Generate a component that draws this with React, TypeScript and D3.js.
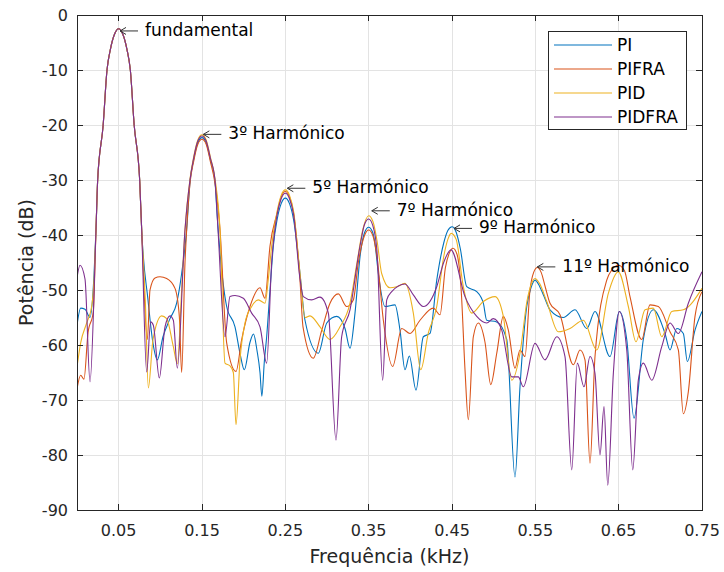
import React from 'react';
import * as d3 from 'd3';

type Pt = [number, number];

const seriesNames = ['PI', 'PIFRA', 'PID', 'PIDFRA'];
const seriesColors = ['#0072BD', '#D95319', '#EDB120', '#7E2F8E'];

// [frequency kHz, power dB]
const piData: Pt[] = [
  [0, -56.4], [0.0044, -53.3], [0.0096, -53.5], [0.0156, -55], [0.0205, -47], [0.0228, -39],
  [0.0248, -30], [0.0314, -20], [0.036, -10], [0.04, -6.3], [0.045, -3.5], [0.05, -2.5], [0.055, -3.5],
  [0.06, -6.3], [0.064, -10], [0.0686, -20], [0.0752, -30], [0.0776, -39],
  [0.0852, -51.8], [0.0912, -59.7], [0.0964, -62.7], [0.1032, -58.5], [0.1116, -55.2], [0.1196, -52.4],
  [0.1256, -47], [0.1316, -39], [0.1356, -30.3], [0.14, -26.3], [0.145, -23.2], [0.15, -22.3], [0.155, -23.2],
  [0.16, -26.3], [0.1656, -30.3], [0.168, -36], [0.1796, -53], [0.1896, -56.7], [0.1956, -61.5], [0.2008, -64.5],
  [0.2076, -59.5], [0.2118, -58], [0.216, -61], [0.2196, -65], [0.2218, -69.3], [0.2248, -63], [0.2276, -58.5],
  [0.2316, -50], [0.2356, -42], [0.24, -37.3], [0.245, -34.3], [0.25, -33.3], [0.255, -34.3], [0.26, -37.3],
  [0.2676, -47], [0.2736, -55.5], [0.2896, -61.5], [0.2997, -56], [0.3117, -54.8], [0.3216, -57], [0.3276, -60.6],
  [0.3336, -54.2], [0.34, -43.5], [0.345, -39.6], [0.35, -38.6], [0.355, -39.6], [0.3575, -41.5], [0.3616, -47],
  [0.3696, -53], [0.3816, -52.7], [0.3876, -57.3], [0.3936, -64.5], [0.3988, -62], [0.4068, -68.2], [0.4156, -58.5],
  [0.4236, -57.9], [0.4317, -48.2], [0.44, -41.5], [0.445, -39.2], [0.45, -38.5], [0.455, -39.5], [0.46, -42.5],
  [0.4677, -49.4], [0.4797, -50.3], [0.4876, -52.4], [0.4916, -55.5], [0.5036, -55.8], [0.5157, -59], [0.5256, -84],
  [0.5316, -67.6], [0.5397, -53], [0.545, -49.5], [0.5496, -48.2], [0.555, -49.3], [0.56, -51], [0.5676, -53.6],
  [0.5836, -55], [0.5976, -53.6], [0.6117, -57], [0.6216, -53.9], [0.6396, -62.1], [0.6508, -53.9], [0.6597, -59],
  [0.6684, -73.3], [0.6796, -59], [0.6916, -53.6], [0.7056, -57.9], [0.7116, -60.9], [0.7197, -57], [0.7276, -57.9],
  [0.7324, -63], [0.7416, -57.3], [0.75, -53.9],
];

const pifraData: Pt[] = [
  [0, -68], [0.0044, -65.5], [0.0084, -66.2], [0.0132, -57.8], [0.0195, -54], [0.0228, -39],
  [0.0248, -30], [0.0314, -20], [0.036, -10], [0.04, -6.3], [0.045, -3.5], [0.05, -2.5], [0.055, -3.5],
  [0.06, -6.3], [0.064, -10], [0.0686, -20], [0.0752, -30], [0.0776, -39],
  [0.0844, -59], [0.0876, -50], [0.0936, -47.8], [0.0996, -47.6], [0.1076, -47.9], [0.1176, -49.7], [0.1228, -54.8],
  [0.1256, -65], [0.1296, -45], [0.1316, -39], [0.1356, -30.6], [0.14, -26.6], [0.145, -23.5], [0.15, -22.6],
  [0.155, -23.5], [0.16, -26.6], [0.1656, -30.6], [0.1716, -39], [0.1796, -59.6], [0.1908, -64.8], [0.1976, -59],
  [0.2076, -53], [0.2196, -49.6], [0.2256, -51.5], [0.2316, -42], [0.24, -36.1], [0.245, -33.1], [0.25, -32.1],
  [0.255, -33.1], [0.26, -36.1], [0.2676, -48.2], [0.2712, -56.7], [0.2836, -62.4], [0.2937, -57.3], [0.3036, -52.4],
  [0.3136, -50.7], [0.3236, -53], [0.3316, -51.8], [0.3376, -45], [0.345, -40.1], [0.35, -39.1], [0.355, -40.1],
  [0.36, -44], [0.3676, -55.5], [0.3788, -63.9], [0.3897, -57], [0.3996, -57.9], [0.4116, -55.5], [0.4276, -53.3],
  [0.4356, -54.5], [0.442, -46], [0.447, -43.2], [0.4512, -42.4], [0.456, -43.5], [0.461, -50], [0.4656, -64.5],
  [0.4696, -73.6], [0.4756, -58.5], [0.4816, -56], [0.4896, -59.5], [0.4965, -67.2], [0.5037, -61.5], [0.5116, -54.8],
  [0.5176, -57.3], [0.5256, -64.2], [0.5316, -60.9], [0.5376, -62.1], [0.5436, -50], [0.548, -46.8], [0.5524, -45.9],
  [0.557, -46.8], [0.562, -49.5], [0.5676, -52.4], [0.5796, -54.5], [0.5956, -63.6], [0.6036, -60.9], [0.6096, -62.7],
  [0.6156, -81.5], [0.6216, -62.1], [0.6357, -48.2], [0.642, -46.3], [0.6496, -45.5], [0.657, -46.5], [0.6636, -51.2],
  [0.6777, -59], [0.6876, -52.7], [0.6976, -53], [0.7116, -57.6], [0.7216, -60.9], [0.7276, -72.5], [0.7336, -68.5],
  [0.7416, -54.8], [0.75, -50.3],
];

const pidData: Pt[] = [
  [0, -64], [0.0044, -59.6], [0.0116, -56], [0.0176, -53], [0.0205, -48], [0.0228, -39],
  [0.0248, -30], [0.0314, -20], [0.036, -10], [0.04, -6.3], [0.045, -3.5], [0.05, -2.5], [0.055, -3.5],
  [0.06, -6.3], [0.064, -10], [0.0686, -20], [0.0752, -30], [0.0776, -39],
  [0.082, -52], [0.0856, -67.8], [0.0912, -59], [0.1016, -54.7], [0.1076, -55.2], [0.1156, -60.3], [0.1204, -63.4],
  [0.1256, -50], [0.1296, -39], [0.1356, -29.8], [0.14, -25.8], [0.145, -22.7], [0.15, -21.8], [0.155, -22.7],
  [0.16, -25.8], [0.1656, -29.8], [0.1716, -39], [0.1776, -63.3], [0.1836, -63.8], [0.1876, -65], [0.1908, -74.5],
  [0.1956, -62.7], [0.2016, -56], [0.2096, -53], [0.2176, -51.8], [0.2256, -52.4], [0.2296, -48], [0.2336, -42],
  [0.24, -35.8], [0.245, -32.8], [0.25, -31.8], [0.255, -32.8], [0.26, -35.8], [0.2676, -47], [0.2736, -55],
  [0.2796, -54.7], [0.2916, -56.7], [0.3036, -59], [0.3156, -56.7], [0.3276, -52.4], [0.336, -45], [0.343, -39],
  [0.35, -36.5], [0.355, -37.5], [0.36, -41], [0.3656, -47], [0.3756, -49.6], [0.3836, -49.4], [0.3936, -48.8],
  [0.4036, -54.2], [0.4125, -64.5], [0.4216, -57.8], [0.4317, -53], [0.44, -44], [0.445, -40.8], [0.449, -39.7],
  [0.455, -40.8], [0.4636, -49.4], [0.4737, -54.2], [0.4876, -52.1], [0.5016, -51.2], [0.5116, -54.8], [0.5217, -66.4],
  [0.5316, -61.5], [0.54, -52], [0.545, -49], [0.5496, -47.9], [0.555, -48.8], [0.5637, -52.1], [0.5776, -57.6],
  [0.5916, -57], [0.6076, -55.5], [0.6237, -60.9], [0.6376, -50.6], [0.6496, -46.7], [0.6616, -53], [0.6708, -59.4],
  [0.6816, -53.6], [0.6916, -53.3], [0.7017, -58.5], [0.7137, -53.9], [0.7276, -53.6], [0.75, -49.7],
];

const pidfraData: Pt[] = [
  [0, -47.8], [0.0036, -45.5], [0.0096, -48], [0.0156, -66.7], [0.0228, -39],
  [0.0248, -30], [0.0314, -20], [0.036, -10], [0.04, -6.3], [0.045, -3.5], [0.05, -2.5], [0.055, -3.5],
  [0.06, -6.3], [0.064, -10], [0.0686, -20], [0.0752, -30], [0.0776, -39],
  [0.0836, -64.9], [0.0884, -55.8], [0.0916, -56.4], [0.0988, -66], [0.1056, -56.7], [0.1116, -54.7], [0.1156, -55.5],
  [0.1204, -64.2], [0.1296, -39], [0.1356, -30], [0.14, -26], [0.145, -22.9], [0.15, -22], [0.155, -22.9],
  [0.16, -26], [0.1656, -30], [0.1692, -39], [0.1776, -58.5], [0.1836, -51.2], [0.1896, -51], [0.1996, -51.5],
  [0.2096, -54.2], [0.2196, -56.7], [0.2276, -63.3], [0.2336, -45], [0.24, -36.4], [0.245, -33.4], [0.25, -32.4],
  [0.255, -33.4], [0.26, -36.4], [0.2676, -48], [0.2716, -51.2], [0.2816, -51.8], [0.2916, -51.3], [0.3016, -54.2],
  [0.3108, -77.3], [0.3176, -58.5], [0.3276, -53.6], [0.3396, -42], [0.345, -38.1], [0.35, -37.1], [0.355, -38.3],
  [0.36, -43], [0.3668, -66.4], [0.3717, -51.8], [0.3777, -50.3], [0.3936, -48.9], [0.4036, -50.9], [0.4156, -53],
  [0.4317, -49.4], [0.44, -45], [0.4488, -42.7], [0.4656, -51.2], [0.4797, -54.8], [0.4916, -56], [0.4996, -55.2],
  [0.5097, -57.3], [0.5217, -65.8], [0.5296, -65.8], [0.5356, -67.6], [0.5496, -59.7], [0.5616, -62.7], [0.5757, -58.5],
  [0.5856, -62.1], [0.5937, -82.7], [0.6004, -63.3], [0.6084, -67.6], [0.6156, -62.1], [0.6216, -65.2], [0.6276, -80],
  [0.6324, -71.2], [0.6369, -85.5], [0.6436, -65.2], [0.6508, -53.9], [0.6597, -60.9], [0.6669, -82.7], [0.6736, -66.4],
  [0.6796, -63.3], [0.6897, -66.4], [0.7017, -60.3], [0.7116, -56], [0.7216, -57.9], [0.7336, -52.4], [0.75, -46.7],
];

const seriesData: Pt[][] = [piData, pifraData, pidData, pidfraData];

const xTicks = [0.05, 0.15, 0.25, 0.35, 0.45, 0.55, 0.65, 0.75];
const yTicks = [0, -10, -20, -30, -40, -50, -60, -70, -80, -90];

const annotLabels = ['fundamental', '3º Harmónico', '5º Harmónico', '7º Harmónico', '9º Harmónico', '11º Harmónico'];
const annotFreq = [0.0516, 0.1516, 0.2524, 0.3537, 0.4524, 0.5524];
const annotDb = [-2.9, -21.7, -31.5, -35.6, -38.8, -45.8];

const FONT = '"DejaVu Sans", Arial, sans-serif';
const AX = '#262626';

export default function App() {
  const W = 724, H = 572;
  const x = d3.scaleLinear().domain([0, 0.75]).range([77, 702]);
  const y = d3.scaleLinear().domain([-90, 0]).range([510, 15]);
  const line = d3.line<Pt>().x(d => x(d[0])).y(d => y(d[1])).curve(d3.curveMonotoneX);
  const [x0, x1] = x.range();
  const [y0, y1] = [y(0), y(-90)];
  const tl = 6;

  return (
    <svg width={W} height={H} style={{ position: 'absolute', left: 0, top: 0, background: '#fff' }}
      fontFamily={FONT}>
      <rect x={0} y={0} width={W} height={H} fill="#fff" />
      <defs>
        <clipPath id="plotClip">
          <rect x={x0} y={y0} width={x1 - x0} height={y1 - y0} />
        </clipPath>
      </defs>
      {/* grid */}
      <g stroke="#e3e3e3" strokeWidth={1} shapeRendering="crispEdges">
        {xTicks.map(t => <line key={'gx' + t} x1={x(t)} x2={x(t)} y1={y0} y2={y1} />)}
        {yTicks.map(t => <line key={'gy' + t} x1={x0} x2={x1} y1={y(t)} y2={y(t)} />)}
      </g>
      {/* series */}
      <g clipPath="url(#plotClip)" fill="none" strokeWidth={1.1} strokeLinejoin="round">
        {seriesData.map((d, i) => (
          <path key={seriesNames[i]} d={line(d) || ''} stroke={seriesColors[i]} />
        ))}
      </g>
      {/* frame & ticks */}
      <g stroke={AX} strokeWidth={1} shapeRendering="crispEdges" fill="none">
        <rect x={x0} y={y0} width={x1 - x0} height={y1 - y0} />
        {xTicks.map(t => (
          <g key={'tx' + t}>
            <line x1={x(t)} x2={x(t)} y1={y1} y2={y1 - tl} />
            <line x1={x(t)} x2={x(t)} y1={y0} y2={y0 + tl} />
          </g>
        ))}
        {yTicks.map(t => (
          <g key={'ty' + t}>
            <line x1={x0} x2={x0 + tl} y1={y(t)} y2={y(t)} />
            <line x1={x1} x2={x1 - tl} y1={y(t)} y2={y(t)} />
          </g>
        ))}
      </g>
      {/* tick labels */}
      <g fill={AX} fontSize={16}>
        {xTicks.map(t => (
          <text key={'lx' + t} x={x(t)} y={y1 + 26} textAnchor="middle">{t.toFixed(2)}</text>
        ))}
        {yTicks.map(t => (
          <text key={'ly' + t} x={x0 - 9} y={y(t) + 6} textAnchor="end">{t}</text>
        ))}
      </g>
      {/* axis labels */}
      <text x={(x0 + x1) / 2} y={563} textAnchor="middle" fontSize={19} fill={AX}>Frequência (kHz)</text>
      <text transform={`translate(33,${(y0 + y1) / 2}) rotate(-90)`} textAnchor="middle" fontSize={19} fill={AX}>Potência (dB)</text>
      {/* annotations */}
      <g>
        {annotLabels.map((lab, i) => {
          const hx = x(annotFreq[i]);
          const hy = y(annotDb[i]);
          return (
            <g key={lab}>
              <g stroke="#333" strokeWidth={1} fill="none">
                <line x1={hx} y1={hy} x2={hx + 18} y2={hy} />
                <polyline points={`${hx + 6},${hy - 3.5} ${hx},${hy} ${hx + 6},${hy + 3.5}`} />
              </g>
              <text x={hx + 25} y={hy + 5} fontSize={17} fill="#000">{lab}</text>
            </g>
          );
        })}
      </g>
      {/* legend */}
      <g>
        <rect x={548} y={31} width={138} height={98} fill="#fff" stroke={AX} strokeWidth={1} shapeRendering="crispEdges" />
        {seriesNames.map((n, i) => (
          <g key={'leg' + n}>
            <line x1={554} x2={612} y1={45 + i * 24} y2={45 + i * 24} stroke={seriesColors[i]} strokeWidth={1.1} />
            <text x={617} y={45 + i * 24 + 6} fontSize={17} fill="#000">{n}</text>
          </g>
        ))}
      </g>
    </svg>
  );
}
